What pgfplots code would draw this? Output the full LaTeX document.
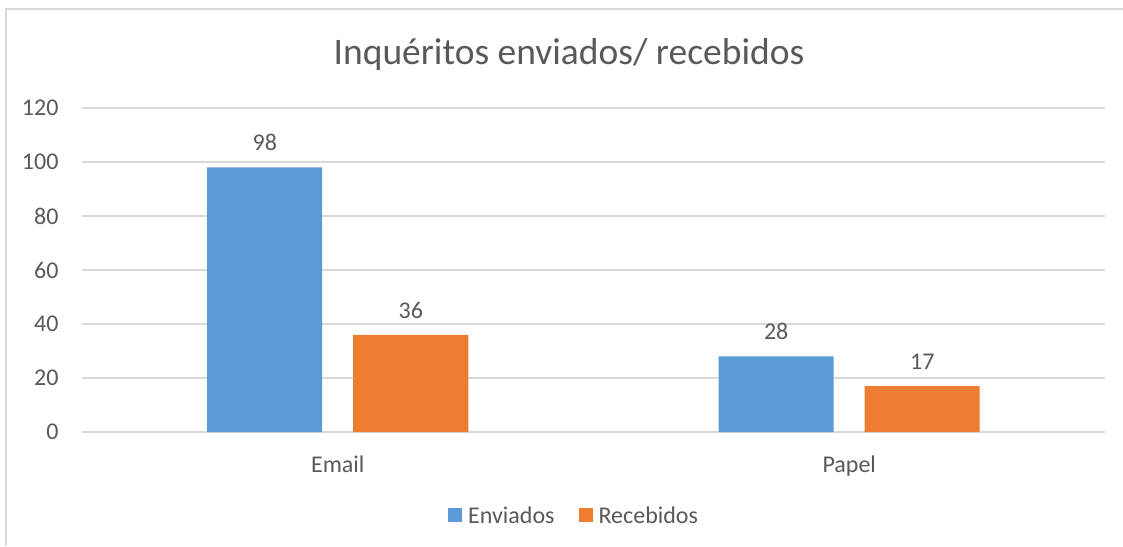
\documentclass[border=0pt]{standalone}
\usepackage{fontspec}
\setmainfont{Carlito}
\usepackage{pgfplots}
\pgfplotsset{compat=1.18}
\definecolor{barblue}{HTML}{5B9BD5}
\definecolor{barorange}{HTML}{ED7D31}
\definecolor{gridgray}{HTML}{D9D9D9}
\definecolor{txtgray}{HTML}{595959}
\newcommand{\lbl}{\fontsize{24}{28}\selectfont}
\begin{document}
\begin{tikzpicture}
\useasboundingbox (0,0) rectangle (1123pt,546pt);
\draw[gridgray, line width=1.5pt] (6pt,0) -- (6pt,537pt) -- (1123pt,537pt);
\node[txtgray, font=\fontsize{37.5}{44}\selectfont] at (569pt,491pt) {Inquéritos enviados/ recebidos};
\begin{axis}[
  at={(82pt,114pt)}, anchor=south west,
  scale only axis,
  width=1023pt, height=324pt,
  ybar=31pt, bar width=115pt,
  xmin=-0.5, xmax=1.5,
  ymin=0, ymax=120,
  ytick={0,20,...,120},
  xtick=data,
  xticklabels={Email,Papel},
  major tick length=0pt,
  ymajorgrids,
  grid style={gridgray, line width=1.5pt},
  axis x line*=bottom,
  axis y line*=left,
  x axis line style={gridgray, line width=1.5pt, -},
  y axis line style={draw=none},
  ticklabel style={font=\lbl, text=txtgray},
  yticklabel style={xshift=-20pt},
  xticklabel style={yshift=-20pt},
  /pgf/number format/assume math mode=true,
  nodes near coords,
  every node near coord/.append style={font=\lbl, text=txtgray, yshift=13pt},
  legend style={at={(0.481,-0.259)}, anchor=center, draw=none, font=\lbl, text=txtgray,
    legend columns=2, /tikz/every even column/.append style={column sep=22pt}},
  legend image code/.code={\fill[#1] (0pt,-6.5pt) rectangle (14pt,7.5pt); \path (18pt,0pt);},
]
\addplot[fill=barblue, draw=none] coordinates {(0,98) (1,28)};
\addplot[fill=barorange, draw=none] coordinates {(0,36) (1,17)};
\legend{Enviados,Recebidos}
\end{axis}
\end{tikzpicture}
\end{document}
